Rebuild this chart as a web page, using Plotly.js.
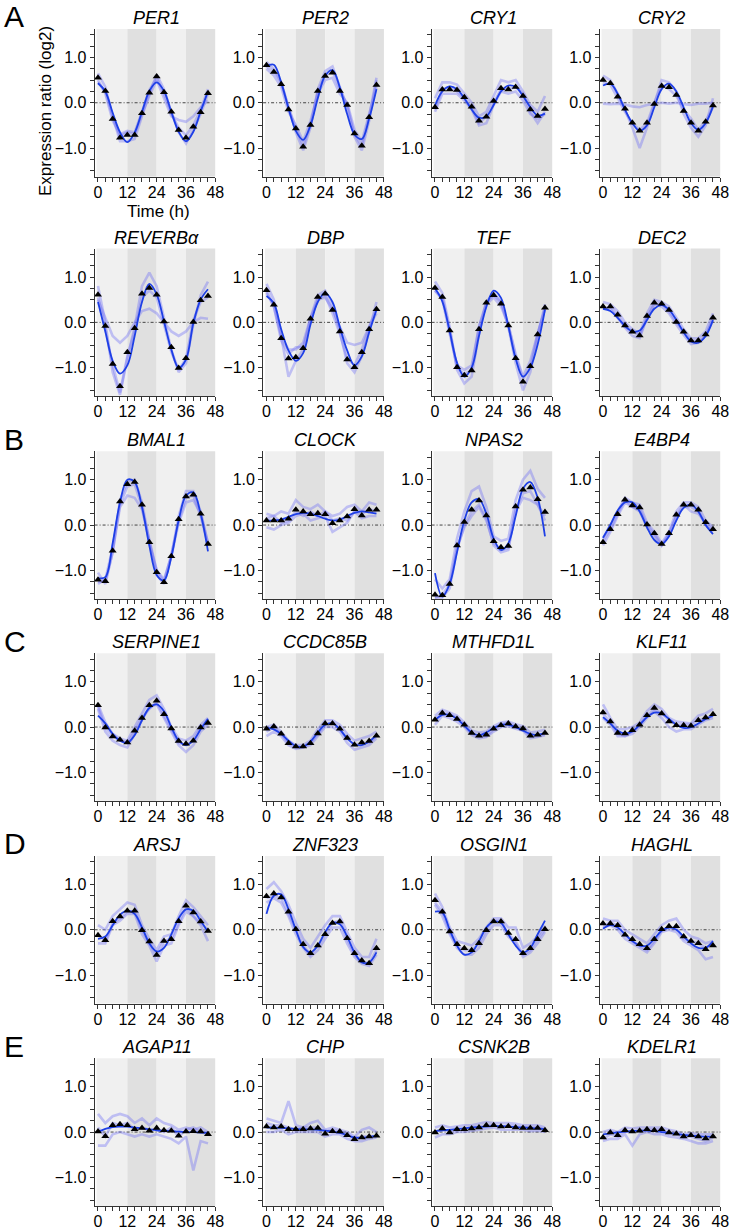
<!DOCTYPE html>
<html><head><meta charset="utf-8">
<script src="https://cdn.plot.ly/plotly-3.0.1.min.js"></script>
<style>body{margin:0;background:#fff}#chart{width:734px;height:1229px}</style>
</head><body><div id="chart"></div>
<script>
const times = [0,3,6,9,12,15,18,21,24,27,30,33,36,39,42,45];
const geneNames = ['PER1','PER2','CRY1','CRY2','REVERBα','DBP','TEF','DEC2','BMAL1','CLOCK','NPAS2','E4BP4','SERPINE1','CCDC85B','MTHFD1L','KLF11','ARSJ','ZNF323','OSGIN1','HAGHL','AGAP11','CHP','CSNK2B','KDELR1'];
const groupLetters = ['A','B','C','D','E'];
const xTickTitle = 'Time (h)';
const yTickTitle = 'Expression ratio (log2)';

const PER1_mean = [0.55,0.26,-0.36,-0.77,-0.71,-0.71,-0.23,0.22,0.58,0.23,-0.2,-0.6,-0.77,-0.53,-0.21,0.21];
const PER1_fit  = [0.43,0.25,-0.22,-0.65,-0.87,-0.66,-0.2,0.26,0.45,0.26,-0.2,-0.64,-0.85,-0.64,-0.19,0.25];
const PER1_r1 = [0.65,0.35,-0.3,-0.85,-0.85,-0.8,-0.3,0.2,0.62,0.3,-0.2,-0.65,-0.9,-0.6,-0.25,0.2];
const PER1_r2 = [0.5,0.2,-0.4,-0.7,-0.62,-0.65,-0.2,0.28,0.55,0.2,-0.25,-0.55,-0.72,-0.5,-0.15,0.3];
const PER1_r3 = [0.45,0.25,-0.3,-0.75,-0.65,-0.7,-0.25,0.15,0.5,0.1,-0.3,-0.38,-0.42,-0.3,-0.1,0.05];

const PER2_mean = [0.83,0.68,0.41,-0.15,-0.57,-0.97,-0.49,0.26,0.59,0.66,0.26,-0.05,-0.68,-0.95,-0.32,0.39];
const PER2_fit  = [0.81,0.84,0.45,-0.12,-0.62,-0.82,-0.5,0.1,0.6,0.72,0.34,-0.25,-0.7,-0.8,-0.35,0.3];
const PER2_r1 = [0.9,0.75,0.45,-0.1,-0.65,-1.05,-0.55,0.3,0.7,0.8,0.35,-0.1,-0.75,-1.05,-0.4,0.5];
const PER2_r2 = [0.75,0.6,0.35,-0.2,-0.5,-0.85,-0.4,0.2,0.5,0.55,0.2,0.0,-0.6,-0.85,-0.25,0.35];
const PER2_r3 = [0.8,0.7,0.45,-0.1,-0.55,-0.95,-0.5,0.25,0.6,0.7,0.3,-0.05,-0.7,-0.95,-0.3,0.55];

const CRY1_mean = [-0.1,0.29,0.29,0.28,0.12,-0.09,-0.4,-0.31,0.04,0.32,0.29,0.35,0.15,-0.15,-0.29,-0.14];
const CRY1_fit  = [-0.06,0.25,0.36,0.3,0.1,-0.15,-0.33,-0.3,-0.05,0.25,0.38,0.35,0.15,-0.1,-0.28,-0.24];
const CRY1_r1 = [0.1,0.45,0.45,0.4,0.2,0.0,-0.3,-0.2,0.15,0.5,0.45,0.5,0.25,-0.05,-0.2,0.15];
const CRY1_r2 = [-0.2,0.2,0.2,0.2,0.05,-0.15,-0.5,-0.45,-0.05,0.25,0.2,0.25,0.05,-0.25,-0.35,-0.25];
const CRY1_r3 = [-0.15,0.3,0.35,0.25,0.1,-0.1,-0.45,-0.3,0.0,0.3,0.3,0.35,0.2,-0.2,-0.45,-0.2];

const CRY2_mean = [0.5,0.43,0.13,-0.13,-0.44,-0.62,-0.44,-0.03,0.37,0.34,0.17,-0.18,-0.44,-0.62,-0.42,-0.06];
const CRY2_fit  = [0.38,0.42,0.2,-0.15,-0.45,-0.62,-0.5,-0.1,0.3,0.42,0.25,-0.1,-0.45,-0.6,-0.45,-0.08];
const CRY2_r1 = [0.6,0.5,0.2,-0.15,-0.55,-1.0,-0.55,-0.05,0.5,0.45,0.25,-0.25,-0.55,-0.75,-0.5,0.1];
const CRY2_r2 = [0.45,0.4,0.1,-0.2,-0.45,-0.6,-0.45,0.0,0.4,0.3,0.15,-0.15,-0.35,-0.6,-0.4,-0.1];
const CRY2_r3 = [-0.02,-0.03,-0.02,-0.04,-0.08,-0.1,-0.05,-0.02,0.0,-0.02,0.0,-0.03,-0.05,-0.02,-0.02,0.0];

const REVERBa_mean = [0.61,-0.08,-0.92,-1.41,-0.66,-0.13,0.63,0.76,0.61,0.02,-0.55,-1.01,-0.79,0.01,0.49,0.58];
const REVERBa_fit  = [0.45,-0.2,-0.85,-1.13,-0.95,-0.3,0.45,0.85,0.62,0.02,-0.6,-1.0,-0.82,-0.02,0.5,0.73];
const REVERBa_r1 = [0.8,0.0,-1.1,-1.6,-0.8,-0.1,0.8,1.1,0.8,0.1,-0.6,-1.1,-0.9,-0.05,0.6,0.9];
const REVERBa_r2 = [0.55,-0.15,-0.95,-1.55,-0.75,-0.2,0.55,0.7,0.55,-0.05,-0.65,-1.05,-0.8,0.05,0.45,0.55];
const REVERBa_r3 = [0.5,0.1,-0.3,-0.45,-0.3,0.0,0.25,0.3,0.2,0.0,-0.2,-0.3,-0.2,0.0,0.1,0.08];

const DBP_mean = [0.71,0.39,-0.35,-0.8,-0.77,-0.57,0.08,0.56,0.63,0.27,-0.2,-0.82,-0.99,-0.66,-0.15,0.29];
const DBP_fit  = [0.58,0.42,-0.15,-0.62,-0.85,-0.68,-0.05,0.45,0.65,0.45,-0.1,-0.62,-0.95,-0.75,-0.22,0.28];
const DBP_r1 = [0.85,0.5,-0.3,-1.2,-0.85,-0.6,0.1,0.6,0.7,0.35,-0.2,-0.9,-1.1,-0.75,-0.2,0.45];
const DBP_r2 = [0.65,0.35,-0.4,-0.7,-0.55,-0.55,0.05,0.5,0.6,0.2,-0.25,-0.8,-0.95,-0.6,-0.1,0.3];
const DBP_r3 = [0.7,0.35,-0.3,-0.6,-0.6,-0.45,0.1,0.5,0.55,0.3,-0.1,-0.45,-0.5,-0.45,-0.1,0.2];

const TEF_mean = [0.76,0.56,-0.18,-0.99,-1.17,-1.06,-0.15,0.43,0.6,0.41,-0.07,-0.79,-1.31,-0.97,-0.27,0.32];
const TEF_fit  = [0.75,0.46,-0.2,-0.89,-1.2,-1.0,-0.3,0.34,0.7,0.54,-0.08,-0.8,-1.2,-1.0,-0.49,0.28];
const TEF_r1 = [0.9,0.65,-0.1,-1.05,-1.35,-1.2,-0.25,0.45,0.65,0.45,-0.1,-0.9,-1.5,-1.1,-0.3,0.4];
const TEF_r2 = [0.7,0.5,-0.25,-0.95,-1.05,-0.95,-0.1,0.4,0.55,0.35,-0.05,-0.7,-1.2,-0.85,-0.25,0.3];
const TEF_r3 = [0.7,0.55,-0.15,-1.0,-1.15,-1.05,-0.1,0.45,0.6,0.45,-0.05,-0.75,-1.25,-1.0,-0.25,0.3];

const DEC2_mean = [0.35,0.35,0.17,-0.07,-0.21,-0.29,0.14,0.43,0.41,0.27,0.01,-0.21,-0.4,-0.4,-0.27,0.1];
const DEC2_fit  = [0.3,0.25,0.1,-0.08,-0.2,-0.18,0.05,0.3,0.38,0.28,0.05,-0.22,-0.42,-0.45,-0.3,0.05];
const DEC2_r1 = [0.45,0.4,0.25,0.0,-0.15,-0.25,0.2,0.5,0.45,0.35,0.1,-0.15,-0.35,-0.35,-0.2,0.2];
const DEC2_r2 = [0.3,0.3,0.1,-0.12,-0.3,-0.35,0.1,0.4,0.35,0.2,-0.05,-0.28,-0.48,-0.45,-0.3,0.05];
const DEC2_r3 = [0.3,0.35,0.15,-0.1,-0.2,-0.3,0.1,0.4,0.42,0.25,0.0,-0.2,-0.4,-0.42,-0.3,0.1];

const BMAL1_mean = [-1.21,-1.24,-0.57,0.52,0.9,0.95,0.45,-0.38,-1.04,-1.26,-0.69,0.13,0.63,0.67,0.25,-0.42];
const BMAL1_fit  = [-1.17,-1.15,-0.4,0.5,1.0,0.95,0.4,-0.45,-1.1,-1.22,-0.7,0.1,0.65,0.72,0.25,-0.58];
const BMAL1_r1 = [-1.05,-1.3,-0.6,0.55,0.95,1.0,0.5,-0.35,-1.1,-1.3,-0.7,0.2,0.75,0.75,0.3,-0.4];
const BMAL1_r2 = [-1.3,-1.2,-0.5,0.45,0.85,0.9,0.4,-0.4,-1.0,-1.25,-0.65,0.1,0.6,0.65,0.2,-0.45];
const BMAL1_r3 = [-1.25,-1.25,-0.6,0.4,0.65,0.6,0.35,-0.35,-1.0,-1.2,-0.7,0.05,0.5,0.55,0.25,-0.4];

const CLOCK_mean = [0.1,0.1,0.1,0.14,0.34,0.3,0.24,0.26,0.24,0.04,0.1,0.19,0.35,0.21,0.34,0.34];
const CLOCK_fit  = [0.1,0.1,0.12,0.18,0.24,0.27,0.25,0.2,0.14,0.1,0.12,0.2,0.27,0.3,0.28,0.25];
const CLOCK_r1 = [0.25,0.2,0.3,0.25,0.55,0.4,0.35,0.45,0.3,0.2,0.25,0.4,0.45,0.3,0.5,0.45];
const CLOCK_r2 = [-0.05,-0.1,0.0,0.05,0.2,0.25,0.1,0.15,0.2,-0.15,-0.05,0.05,0.3,0.15,0.2,0.2];
const CLOCK_r3 = [0.15,0.2,0.05,0.1,0.3,0.2,0.3,0.2,0.3,0.1,0.15,0.1,0.3,0.25,0.35,0.3];

const NPAS2_mean = [-1.54,-1.55,-1.3,-0.45,0.07,0.34,0.54,0.21,-0.36,-0.49,-0.46,0.41,0.78,0.83,0.57,0.29];
const NPAS2_fit  = [-1.06,-1.58,-1.3,-0.6,0.1,0.5,0.57,0.25,-0.3,-0.55,-0.4,0.2,0.8,0.95,0.6,-0.25];
const NPAS2_r1 = [-1.2,-1.4,-1.2,-0.3,0.3,0.75,0.85,0.4,-0.25,-0.35,-0.3,0.55,1.0,1.2,0.8,0.6];
const NPAS2_r2 = [-1.6,-1.6,-1.4,-0.55,0.0,0.3,0.45,0.15,-0.45,-0.6,-0.55,0.35,0.7,0.75,0.45,0.2];
const NPAS2_r3 = [-1.6,-1.55,-1.3,-0.5,-0.05,0.2,0.4,0.1,-0.4,-0.55,-0.5,0.3,0.6,0.55,0.45,0.1];

const E4BP4_mean = [-0.38,-0.09,0.24,0.56,0.43,0.39,0.01,-0.18,-0.42,-0.18,0.23,0.45,0.45,0.34,0.06,-0.09];
const E4BP4_fit  = [-0.28,0.0,0.32,0.5,0.5,0.3,-0.05,-0.33,-0.42,-0.25,0.1,0.38,0.45,0.3,0.0,-0.2];
const E4BP4_r1 = [-0.3,0.0,0.3,0.6,0.5,0.45,0.05,-0.15,-0.4,-0.15,0.3,0.5,0.5,0.4,0.1,-0.05];
const E4BP4_r2 = [-0.45,-0.15,0.2,0.5,0.4,0.3,-0.05,-0.25,-0.45,-0.2,0.2,0.4,0.4,0.3,0.0,-0.15];
const E4BP4_r3 = [-0.35,-0.1,0.25,0.55,0.4,0.35,0.0,-0.2,-0.45,-0.2,0.2,0.45,0.3,0.25,0.05,-0.1];

const SERPINE1_mean = [0.48,-0.01,-0.21,-0.28,-0.34,-0.08,0.2,0.48,0.58,0.28,-0.03,-0.31,-0.37,-0.3,-0.01,0.09];
const SERPINE1_fit  = [0.25,0.08,-0.15,-0.3,-0.35,-0.18,0.15,0.42,0.5,0.35,0.0,-0.3,-0.4,-0.3,-0.05,0.18];
const SERPINE1_r1 = [0.5,0.1,-0.15,-0.25,-0.3,0.0,0.3,0.6,0.7,0.4,0.0,-0.25,-0.3,-0.2,0.05,0.2];
const SERPINE1_r2 = [0.4,-0.1,-0.3,-0.4,-0.45,-0.15,0.15,0.45,0.5,0.2,-0.1,-0.4,-0.55,-0.4,-0.1,0.05];
const SERPINE1_r3 = [0.45,0.0,-0.2,-0.3,-0.35,-0.1,0.2,0.4,0.55,0.25,-0.05,-0.35,-0.4,-0.3,0.0,0.1];

const CCDC85B_mean = [-0.04,0.01,-0.15,-0.36,-0.43,-0.43,-0.36,-0.14,0.08,0.08,-0.04,-0.24,-0.39,-0.34,-0.31,-0.19];
const CCDC85B_fit  = [-0.02,-0.05,-0.15,-0.3,-0.42,-0.43,-0.32,-0.12,0.05,0.08,-0.05,-0.25,-0.38,-0.4,-0.32,-0.18];
const CCDC85B_r1 = [0.0,0.05,-0.1,-0.3,-0.4,-0.4,-0.3,-0.05,0.15,0.15,0.05,-0.15,-0.3,-0.25,-0.2,-0.1];
const CCDC85B_r2 = [-0.2,-0.1,-0.2,-0.4,-0.48,-0.45,-0.4,-0.2,0.0,0.0,-0.1,-0.35,-0.5,-0.45,-0.4,-0.25];
const CCDC85B_r3 = [-0.1,0.0,-0.15,-0.35,-0.45,-0.45,-0.35,-0.15,0.05,0.1,-0.05,-0.25,-0.4,-0.35,-0.35,-0.2];

const MTHFD1L_mean = [0.16,0.31,0.26,0.18,0.05,-0.13,-0.19,-0.17,-0.04,0.04,0.08,0.01,-0.03,-0.19,-0.17,-0.13];
const MTHFD1L_fit  = [0.15,0.27,0.27,0.18,0.03,-0.12,-0.18,-0.12,-0.02,0.05,0.05,0.0,-0.08,-0.15,-0.17,-0.13];
const MTHFD1L_r1 = [0.25,0.38,0.32,0.25,0.1,-0.08,-0.12,-0.1,0.02,0.1,0.12,0.06,0.02,-0.12,-0.1,-0.06];
const MTHFD1L_r2 = [0.05,0.25,0.2,0.12,0.0,-0.18,-0.25,-0.22,-0.1,0.0,0.02,-0.04,-0.08,-0.25,-0.22,-0.18];
const MTHFD1L_r3 = [0.18,0.3,0.28,0.2,0.05,-0.15,-0.2,-0.2,-0.05,0.05,0.1,0.0,-0.05,-0.2,-0.2,-0.15];

const KLF11_mean = [0.32,0.12,-0.13,-0.14,-0.07,0.05,0.26,0.42,0.3,0.12,0.04,0.04,0.03,0.15,0.21,0.28];
const KLF11_fit  = [0.22,0.08,-0.08,-0.14,-0.1,0.05,0.22,0.32,0.3,0.18,0.05,-0.02,0.0,0.08,0.18,0.25];
const KLF11_r1 = [0.5,0.2,-0.05,-0.05,0.0,0.1,0.35,0.5,0.4,0.2,0.12,0.1,0.08,0.25,0.3,0.4];
const KLF11_r2 = [0.2,0.05,-0.2,-0.2,-0.15,0.0,0.2,0.35,0.2,0.0,-0.1,-0.05,-0.05,0.05,0.15,0.2];
const KLF11_r3 = [0.3,0.1,-0.15,-0.2,-0.1,0.05,0.25,0.4,0.3,0.15,0.05,0.05,0.05,0.15,0.2,0.25];

const ARSJ_mean = [-0.12,-0.23,0.19,0.29,0.42,0.42,-0.01,-0.26,-0.56,-0.25,-0.21,0.19,0.53,0.38,0.18,-0.03];
const ARSJ_fit  = [-0.2,-0.15,0.1,0.33,0.42,0.35,0.05,-0.3,-0.48,-0.4,-0.1,0.25,0.45,0.42,0.2,-0.05];
const ARSJ_r1 = [0.1,0.0,0.3,0.45,0.6,0.55,0.1,-0.2,-0.45,-0.15,-0.1,0.3,0.65,0.5,0.3,0.1];
const ARSJ_r2 = [-0.3,-0.3,0.1,0.2,0.35,0.35,-0.1,-0.35,-0.7,-0.35,-0.3,0.1,0.4,0.3,0.1,-0.25];
const ARSJ_r3 = [-0.1,-0.25,0.15,0.25,0.4,0.4,0.0,-0.3,-0.55,-0.25,-0.2,0.15,0.5,0.3,0.15,0.0];

const ZNF323_mean = [0.74,0.8,0.71,0.4,0.01,-0.32,-0.52,-0.35,-0.1,0.15,0.18,-0.19,-0.52,-0.68,-0.74,-0.41];
const ZNF323_fit  = [0.35,0.75,0.78,0.45,0.0,-0.38,-0.5,-0.35,-0.05,0.15,0.12,-0.15,-0.5,-0.72,-0.72,-0.5];
const ZNF323_r1 = [0.9,1.05,0.85,0.55,0.15,-0.2,-0.4,-0.15,0.1,0.3,0.3,-0.05,-0.4,-0.6,-0.6,-0.2];
const ZNF323_r2 = [0.6,0.7,0.6,0.3,-0.1,-0.4,-0.6,-0.45,-0.2,0.05,0.05,-0.3,-0.6,-0.75,-0.8,-0.55];
const ZNF323_r3 = [0.7,0.75,0.7,0.35,0.0,-0.35,-0.55,-0.35,-0.1,0.15,0.2,-0.2,-0.55,-0.7,-0.75,-0.45];

const OSGIN1_mean = [0.65,0.4,-0.04,-0.32,-0.41,-0.45,-0.3,-0.01,0.18,0.18,-0.07,-0.21,-0.52,-0.41,-0.21,0.01];
const OSGIN1_fit  = [0.4,0.38,0.0,-0.35,-0.55,-0.5,-0.25,0.05,0.18,0.15,-0.1,-0.35,-0.5,-0.4,-0.1,0.2];
const OSGIN1_r1 = [0.8,0.5,0.05,-0.25,-0.3,-0.35,-0.2,0.05,0.25,0.25,0.05,0.05,-0.4,-0.3,-0.15,0.1];
const OSGIN1_r2 = [0.55,0.3,-0.1,-0.4,-0.55,-0.55,-0.4,-0.1,0.1,0.1,-0.15,-0.3,-0.6,-0.5,-0.3,-0.05];
const OSGIN1_r3 = [0.6,0.4,-0.05,-0.35,-0.45,-0.45,-0.3,0.0,0.2,0.2,-0.1,-0.25,-0.55,-0.45,-0.2,0.0];

const HAGHL_mean = [0.14,0.14,0.1,-0.11,-0.21,-0.32,-0.41,-0.21,0.01,0.08,0.08,-0.15,-0.25,-0.3,-0.43,-0.35];
const HAGHL_fit  = [0.02,0.1,0.05,-0.1,-0.25,-0.35,-0.35,-0.2,-0.02,0.05,0.0,-0.15,-0.3,-0.4,-0.4,-0.25];
const HAGHL_r1 = [0.25,0.2,0.2,0.0,-0.1,-0.2,-0.3,-0.1,0.1,0.2,0.25,0.0,-0.15,-0.2,-0.3,-0.25];
const HAGHL_r2 = [0.05,0.1,0.0,-0.2,-0.3,-0.4,-0.5,-0.3,-0.05,0.0,-0.05,-0.25,-0.35,-0.45,-0.65,-0.6];
const HAGHL_r3 = [0.1,0.15,0.1,-0.12,-0.25,-0.35,-0.45,-0.25,0.0,0.05,0.05,-0.2,-0.25,-0.3,-0.4,-0.3];

const AGAP11_mean = [0.01,-0.09,0.15,0.17,0.15,0.06,0.09,0.03,0.09,0.04,0.03,-0.08,0.01,0.02,0.01,-0.05];
const AGAP11_fit  = [0.0,0.07,0.11,0.12,0.12,0.1,0.08,0.06,0.04,0.03,0.02,0.01,0.0,0.0,-0.01,-0.02];
const AGAP11_r1 = [0.4,0.2,0.35,0.4,0.35,0.2,0.3,0.15,0.3,0.2,0.15,0.05,0.1,0.05,0.1,0.0];
const AGAP11_r2 = [-0.3,-0.3,-0.05,0.0,-0.05,-0.1,-0.05,-0.1,-0.05,-0.1,-0.15,-0.25,-0.1,-0.85,-0.2,-0.25];
const AGAP11_r3 = [0.1,-0.1,0.2,0.15,0.2,0.05,0.1,0.05,0.05,0.0,0.1,-0.1,0.05,0.1,0.0,-0.05];

const CHP_mean = [0.12,0.1,0.12,0.06,0.06,0.06,0.08,0.09,-0.04,0.02,0.01,-0.07,-0.16,-0.12,-0.1,-0.08];
const CHP_fit  = [0.1,0.1,0.09,0.08,0.07,0.06,0.06,0.05,0.03,0.01,-0.02,-0.07,-0.12,-0.13,-0.11,-0.08];
const CHP_r1 = [0.3,0.25,0.2,0.68,0.15,0.1,0.2,0.25,0.05,0.1,0.05,0.0,-0.1,0.05,0.1,0.0];
const CHP_r2 = [0.0,0.0,0.05,-0.05,0.0,0.0,0.0,0.0,-0.1,-0.05,-0.05,-0.15,-0.2,-0.2,-0.15,-0.12];
const CHP_r3 = [0.2,0.15,0.15,0.1,0.05,0.1,0.1,0.1,0.0,0.05,0.0,-0.05,-0.15,-0.1,-0.1,-0.1];

const CSNK2B_mean = [-0.01,0.08,-0.01,0.06,0.06,0.08,0.1,0.15,0.15,0.12,0.13,0.1,0.09,0.09,0.09,0.04];
const CSNK2B_fit  = [0.02,0.04,0.05,0.07,0.08,0.1,0.11,0.12,0.13,0.13,0.12,0.11,0.1,0.09,0.08,0.06];
const CSNK2B_r1 = [0.1,0.15,0.1,0.12,0.15,0.15,0.18,0.22,0.2,0.2,0.2,0.18,0.15,0.15,0.15,0.1];
const CSNK2B_r2 = [-0.12,-0.05,-0.05,0.0,0.0,0.02,0.05,0.08,0.1,0.05,0.05,0.05,0.05,0.02,0.03,0.0];
const CSNK2B_r3 = [0.0,0.05,0.02,0.05,0.08,0.1,0.12,0.15,0.15,0.12,0.15,0.12,0.1,0.1,0.1,0.05];

const KDELR1_mean = [-0.12,-0.01,-0.07,0.04,0.01,0.03,0.06,0.04,0.06,-0.01,-0.04,-0.1,-0.07,-0.1,-0.14,-0.1];
const KDELR1_fit  = [-0.05,-0.03,-0.01,0.01,0.02,0.03,0.03,0.02,0.0,-0.02,-0.04,-0.06,-0.08,-0.09,-0.1,-0.1];
const KDELR1_r1 = [0.0,0.05,0.0,0.1,0.08,0.1,0.1,0.1,0.1,0.05,0.02,-0.05,-0.02,-0.05,-0.05,-0.05];
const KDELR1_r2 = [-0.2,-0.15,-0.15,-0.05,-0.3,-0.05,0.0,-0.05,-0.05,-0.1,-0.12,-0.15,-0.2,-0.25,-0.25,-0.2];
const KDELR1_r3 = [-0.15,-0.05,-0.1,0.02,0.0,0.03,0.05,0.05,0.05,-0.05,-0.05,-0.12,-0.1,-0.15,-0.2,-0.12];

const panelData = [
  [PER1_mean,PER1_fit,[PER1_r1,PER1_r2,PER1_r3]],
  [PER2_mean,PER2_fit,[PER2_r1,PER2_r2,PER2_r3]],
  [CRY1_mean,CRY1_fit,[CRY1_r1,CRY1_r2,CRY1_r3]],
  [CRY2_mean,CRY2_fit,[CRY2_r1,CRY2_r2,CRY2_r3]],
  [REVERBa_mean,REVERBa_fit,[REVERBa_r1,REVERBa_r2,REVERBa_r3]],
  [DBP_mean,DBP_fit,[DBP_r1,DBP_r2,DBP_r3]],
  [TEF_mean,TEF_fit,[TEF_r1,TEF_r2,TEF_r3]],
  [DEC2_mean,DEC2_fit,[DEC2_r1,DEC2_r2,DEC2_r3]],
  [BMAL1_mean,BMAL1_fit,[BMAL1_r1,BMAL1_r2,BMAL1_r3]],
  [CLOCK_mean,CLOCK_fit,[CLOCK_r1,CLOCK_r2,CLOCK_r3]],
  [NPAS2_mean,NPAS2_fit,[NPAS2_r1,NPAS2_r2,NPAS2_r3]],
  [E4BP4_mean,E4BP4_fit,[E4BP4_r1,E4BP4_r2,E4BP4_r3]],
  [SERPINE1_mean,SERPINE1_fit,[SERPINE1_r1,SERPINE1_r2,SERPINE1_r3]],
  [CCDC85B_mean,CCDC85B_fit,[CCDC85B_r1,CCDC85B_r2,CCDC85B_r3]],
  [MTHFD1L_mean,MTHFD1L_fit,[MTHFD1L_r1,MTHFD1L_r2,MTHFD1L_r3]],
  [KLF11_mean,KLF11_fit,[KLF11_r1,KLF11_r2,KLF11_r3]],
  [ARSJ_mean,ARSJ_fit,[ARSJ_r1,ARSJ_r2,ARSJ_r3]],
  [ZNF323_mean,ZNF323_fit,[ZNF323_r1,ZNF323_r2,ZNF323_r3]],
  [OSGIN1_mean,OSGIN1_fit,[OSGIN1_r1,OSGIN1_r2,OSGIN1_r3]],
  [HAGHL_mean,HAGHL_fit,[HAGHL_r1,HAGHL_r2,HAGHL_r3]],
  [AGAP11_mean,AGAP11_fit,[AGAP11_r1,AGAP11_r2,AGAP11_r3]],
  [CHP_mean,CHP_fit,[CHP_r1,CHP_r2,CHP_r3]],
  [CSNK2B_mean,CSNK2B_fit,[CSNK2B_r1,CSNK2B_r2,CSNK2B_r3]],
  [KDELR1_mean,KDELR1_fit,[KDELR1_r1,KDELR1_r2,KDELR1_r3]]
];

// ---- layout geometry (pixels) ----
const W = 734, H = 1229;
const colZero = [98, 266.5, 435, 603];
const pxPerH = 2.444;
const xMin = -1.4, xMax = 48.05;
const rowTop = [28.9, 248.5, 451.2, 653.2, 855.9, 1058.2];
const plotH = 147.7;
const letterRows = [0, 2, 3, 4, 5];
const FONT = 'Liberation Sans, Arial, Helvetica, sans-serif';

const traces = [];
const layout = {
  width: W, height: H, autosize: false,
  margin: {l:0, r:0, t:0, b:0, pad:0},
  paper_bgcolor: '#ffffff', plot_bgcolor: '#ffffff',
  showlegend: false,
  font: {family: FONT, color: '#000', size: 16},
  shapes: [], annotations: []
};

const bands = [[-0.6,12,'#f0f0f0'],[12,24,'#e0e0e0'],[24,36,'#f0f0f0'],[36,48.05,'#e0e0e0']];

panelData.forEach((pd, i) => {
  const r = Math.floor(i/4), c = i%4;
  const n = i+1, sfx = n===1 ? '' : String(n);
  const xa = 'x'+sfx, ya = 'y'+sfx;
  const left = colZero[c] + xMin*pxPerH, right = colZero[c] + xMax*pxPerH;
  const top = rowTop[r], bot = rowTop[r] + plotH;
  layout['xaxis'+sfx] = {
    domain: [left/W, right/W], anchor: ya, range: [xMin, xMax],
    showgrid: false, zeroline: false, showline: true, linecolor: '#333', linewidth: 1,
    ticks: 'outside', ticklen: 4, tickcolor: '#333', tickwidth: 1, ticklabelstandoff: -3,
    tick0: 0, dtick: 12, tickfont: {size: 16, family: FONT, color: '#000'},
    minor: {dtick: 3, tick0: 0, ticks: 'outside', ticklen: 4, tickcolor: '#333', showgrid: false},
    fixedrange: true
  };
  layout['yaxis'+sfx] = {
    domain: [1 - bot/H, 1 - top/H], anchor: xa, range: [-1.63, 1.63],
    showgrid: false, zeroline: false, showline: true, linecolor: '#333', linewidth: 1,
    ticks: 'outside', ticklen: 4, tickcolor: '#333', tickwidth: 1,
    tick0: 0, dtick: 1, tickformat: '.1f', tickfont: {size: 16, family: FONT, color: '#000'},
    minor: {dtick: 0.25, tick0: 0, ticks: 'outside', ticklen: 4, tickcolor: '#333', showgrid: false},
    fixedrange: true
  };
  bands.forEach(b => layout.shapes.push({
    type: 'rect', layer: 'below', xref: xa, yref: ya + ' domain',
    x0: b[0], x1: b[1], y0: 0, y1: 1, fillcolor: b[2], line: {width: 0}
  }));
  layout.shapes.push({
    type: 'line', layer: 'below', xref: xa + ' domain', yref: ya,
    x0: 0, x1: 1, y0: 0, y1: 0, line: {color: '#444', width: 1, dash: '3px,2px,1px,2px'}
  });
  pd[2].forEach(rep => traces.push({
    x: times, y: rep, xaxis: xa, yaxis: ya, type: 'scatter', mode: 'lines',
    line: {color: 'rgba(115,115,245,0.4)', width: 2.6}, hoverinfo: 'skip'
  }));
  traces.push({
    x: times, y: pd[1], xaxis: xa, yaxis: ya, type: 'scatter', mode: 'lines',
    line: {color: '#1e3fe6', width: 1.8, shape: 'spline', smoothing: 1}
  });
  traces.push({
    x: times, y: pd[0], xaxis: xa, yaxis: ya, type: 'scatter', mode: 'markers',
    marker: {symbol: 'triangle-up', size: 7, color: '#000'}
  });
  layout.annotations.push({
    text: '<i>' + geneNames[i] + '</i>', xref: 'paper', yref: 'paper',
    x: (colZero[c] + 24*pxPerH)/W, y: 1 - (top - 11)/H,
    xanchor: 'center', yanchor: 'middle', showarrow: false,
    font: {size: 18, family: FONT, color: '#000'}
  });
});

letterRows.forEach((r, k) => layout.annotations.push({
  text: groupLetters[k], xref: 'paper', yref: 'paper',
  x: 2/W, y: 1 - (rowTop[r] - 12)/H, xanchor: 'left', yanchor: 'middle', showarrow: false,
  font: {size: 30, family: FONT, color: '#000'}
}));

layout.annotations.push({
  text: yTickTitle, xref: 'paper', yref: 'paper', x: 46/W, y: 1 - 111/H,
  xanchor: 'center', yanchor: 'middle', textangle: -90, showarrow: false,
  font: {size: 17, family: FONT, color: '#000'}
});
layout.annotations.push({
  text: xTickTitle, xref: 'paper', yref: 'paper', x: 158/W, y: 1 - 211/H,
  xanchor: 'center', yanchor: 'middle', showarrow: false,
  font: {size: 17, family: FONT, color: '#000'}
});

Plotly.newPlot('chart', traces, layout, {staticPlot: true, displayModeBar: false});
</script>
</body></html>
